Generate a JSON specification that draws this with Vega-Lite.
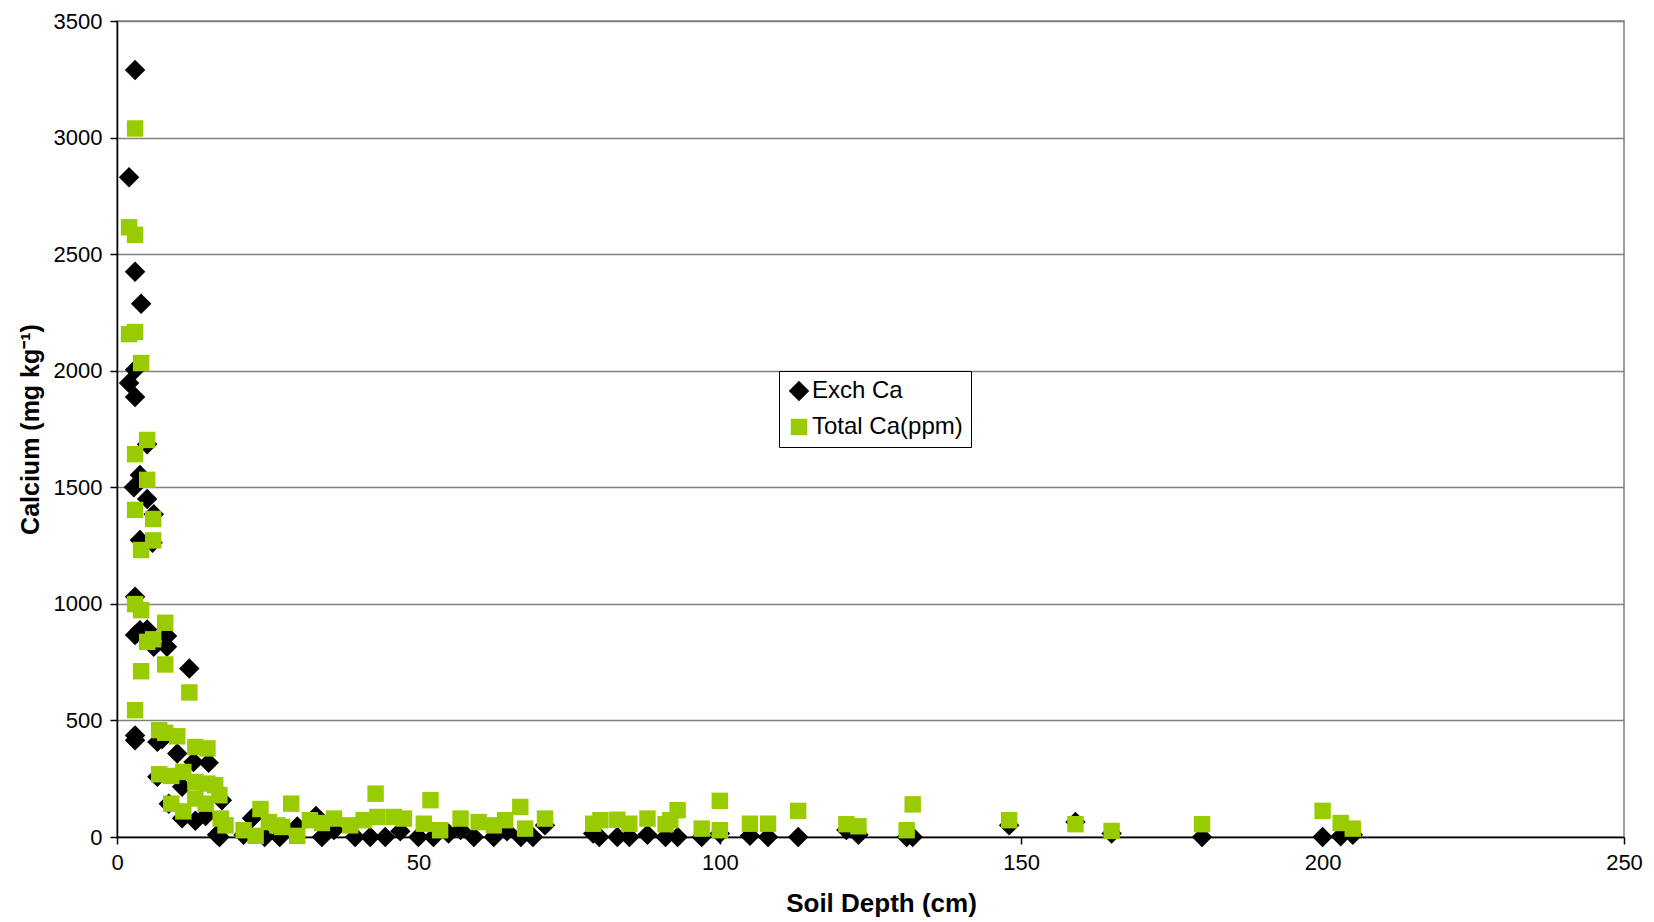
{
  "$schema": "https://vega.github.io/schema/vega-lite/v6.json",
  "width": 1507,
  "height": 816,
  "autosize": {"type": "none"},
  "padding": {"left": 117, "top": 21, "right": 30, "bottom": 85},
  "background": "white",
  "config": {
    "font": "Liberation Sans",
    "view": {"stroke": "#808080", "strokeWidth": 1.5},
    "axis": {"labelFont": "Liberation Sans", "titleFont": "Liberation Sans", "labelColor": "black", "titleColor": "black", "domainColor": "black", "tickColor": "black", "domainWidth": 1.5, "tickWidth": 1.5, "tickSize": 7}
  },
  "data": {
    "values": [
      {"depth": 3, "ca": 3290, "series": "Exch Ca"},
      {"depth": 2, "ca": 2830, "series": "Exch Ca"},
      {"depth": 3, "ca": 2425, "series": "Exch Ca"},
      {"depth": 4, "ca": 2287, "series": "Exch Ca"},
      {"depth": 3, "ca": 2004, "series": "Exch Ca"},
      {"depth": 2, "ca": 1947, "series": "Exch Ca"},
      {"depth": 3, "ca": 1887, "series": "Exch Ca"},
      {"depth": 5, "ca": 1685, "series": "Exch Ca"},
      {"depth": 3.8, "ca": 1553, "series": "Exch Ca"},
      {"depth": 2.8, "ca": 1500, "series": "Exch Ca"},
      {"depth": 5, "ca": 1450, "series": "Exch Ca"},
      {"depth": 6.1, "ca": 1384, "series": "Exch Ca"},
      {"depth": 3.8, "ca": 1274, "series": "Exch Ca"},
      {"depth": 5.9, "ca": 1262, "series": "Exch Ca"},
      {"depth": 3, "ca": 1030, "series": "Exch Ca"},
      {"depth": 3.8, "ca": 887, "series": "Exch Ca"},
      {"depth": 5, "ca": 890, "series": "Exch Ca"},
      {"depth": 3, "ca": 866, "series": "Exch Ca"},
      {"depth": 6.1, "ca": 816, "series": "Exch Ca"},
      {"depth": 8.3, "ca": 862, "series": "Exch Ca"},
      {"depth": 8.3, "ca": 816, "series": "Exch Ca"},
      {"depth": 12, "ca": 723, "series": "Exch Ca"},
      {"depth": 3, "ca": 435, "series": "Exch Ca"},
      {"depth": 3, "ca": 415, "series": "Exch Ca"},
      {"depth": 6.7, "ca": 408, "series": "Exch Ca"},
      {"depth": 7.5, "ca": 420, "series": "Exch Ca"},
      {"depth": 10, "ca": 358, "series": "Exch Ca"},
      {"depth": 12.7, "ca": 322, "series": "Exch Ca"},
      {"depth": 15.2, "ca": 318, "series": "Exch Ca"},
      {"depth": 6.7, "ca": 258, "series": "Exch Ca"},
      {"depth": 10.8, "ca": 215, "series": "Exch Ca"},
      {"depth": 17.4, "ca": 158, "series": "Exch Ca"},
      {"depth": 8.6, "ca": 143, "series": "Exch Ca"},
      {"depth": 10.8, "ca": 80, "series": "Exch Ca"},
      {"depth": 13, "ca": 70, "series": "Exch Ca"},
      {"depth": 14.7, "ca": 90, "series": "Exch Ca"},
      {"depth": 16.6, "ca": 10, "series": "Exch Ca"},
      {"depth": 17, "ca": 0, "series": "Exch Ca"},
      {"depth": 21, "ca": 10, "series": "Exch Ca"},
      {"depth": 22.4, "ca": 80, "series": "Exch Ca"},
      {"depth": 24.5, "ca": 0, "series": "Exch Ca"},
      {"depth": 27, "ca": 0, "series": "Exch Ca"},
      {"depth": 29.9, "ca": 45, "series": "Exch Ca"},
      {"depth": 33, "ca": 90, "series": "Exch Ca"},
      {"depth": 34, "ca": 0, "series": "Exch Ca"},
      {"depth": 36, "ca": 30, "series": "Exch Ca"},
      {"depth": 39.5, "ca": 0, "series": "Exch Ca"},
      {"depth": 42, "ca": 0, "series": "Exch Ca"},
      {"depth": 44.5, "ca": 0, "series": "Exch Ca"},
      {"depth": 47, "ca": 25, "series": "Exch Ca"},
      {"depth": 50, "ca": 0, "series": "Exch Ca"},
      {"depth": 52.5, "ca": 0, "series": "Exch Ca"},
      {"depth": 55, "ca": 15, "series": "Exch Ca"},
      {"depth": 57, "ca": 30, "series": "Exch Ca"},
      {"depth": 59.2, "ca": 0, "series": "Exch Ca"},
      {"depth": 62.5, "ca": 0, "series": "Exch Ca"},
      {"depth": 64.7, "ca": 25, "series": "Exch Ca"},
      {"depth": 67, "ca": 0, "series": "Exch Ca"},
      {"depth": 69, "ca": 0, "series": "Exch Ca"},
      {"depth": 71, "ca": 50, "series": "Exch Ca"},
      {"depth": 79, "ca": 15, "series": "Exch Ca"},
      {"depth": 80, "ca": 0, "series": "Exch Ca"},
      {"depth": 83, "ca": 0, "series": "Exch Ca"},
      {"depth": 85, "ca": 0, "series": "Exch Ca"},
      {"depth": 88, "ca": 10, "series": "Exch Ca"},
      {"depth": 91, "ca": 0, "series": "Exch Ca"},
      {"depth": 93, "ca": 0, "series": "Exch Ca"},
      {"depth": 97, "ca": 0, "series": "Exch Ca"},
      {"depth": 100, "ca": 15, "series": "Exch Ca"},
      {"depth": 105, "ca": 5, "series": "Exch Ca"},
      {"depth": 108, "ca": 0, "series": "Exch Ca"},
      {"depth": 113, "ca": 0, "series": "Exch Ca"},
      {"depth": 121, "ca": 30, "series": "Exch Ca"},
      {"depth": 123, "ca": 10, "series": "Exch Ca"},
      {"depth": 131, "ca": 0, "series": "Exch Ca"},
      {"depth": 132, "ca": 0, "series": "Exch Ca"},
      {"depth": 148, "ca": 50, "series": "Exch Ca"},
      {"depth": 159, "ca": 64, "series": "Exch Ca"},
      {"depth": 165, "ca": 15, "series": "Exch Ca"},
      {"depth": 180, "ca": 0, "series": "Exch Ca"},
      {"depth": 200, "ca": 0, "series": "Exch Ca"},
      {"depth": 203, "ca": 3, "series": "Exch Ca"},
      {"depth": 205, "ca": 10, "series": "Exch Ca"},
      {"depth": 3, "ca": 3039, "series": "Total Ca(ppm)"},
      {"depth": 2, "ca": 2615, "series": "Total Ca(ppm)"},
      {"depth": 3, "ca": 2583, "series": "Total Ca(ppm)"},
      {"depth": 2, "ca": 2157, "series": "Total Ca(ppm)"},
      {"depth": 3, "ca": 2166, "series": "Total Ca(ppm)"},
      {"depth": 4, "ca": 2033, "series": "Total Ca(ppm)"},
      {"depth": 5, "ca": 1703, "series": "Total Ca(ppm)"},
      {"depth": 3, "ca": 1642, "series": "Total Ca(ppm)"},
      {"depth": 5, "ca": 1532, "series": "Total Ca(ppm)"},
      {"depth": 3, "ca": 1403, "series": "Total Ca(ppm)"},
      {"depth": 6, "ca": 1364, "series": "Total Ca(ppm)"},
      {"depth": 6, "ca": 1272, "series": "Total Ca(ppm)"},
      {"depth": 4, "ca": 1231, "series": "Total Ca(ppm)"},
      {"depth": 3, "ca": 999, "series": "Total Ca(ppm)"},
      {"depth": 4, "ca": 973, "series": "Total Ca(ppm)"},
      {"depth": 8, "ca": 919, "series": "Total Ca(ppm)"},
      {"depth": 5, "ca": 837, "series": "Total Ca(ppm)"},
      {"depth": 6, "ca": 848, "series": "Total Ca(ppm)"},
      {"depth": 4, "ca": 711, "series": "Total Ca(ppm)"},
      {"depth": 8, "ca": 740, "series": "Total Ca(ppm)"},
      {"depth": 12, "ca": 620, "series": "Total Ca(ppm)"},
      {"depth": 3, "ca": 544, "series": "Total Ca(ppm)"},
      {"depth": 7, "ca": 458, "series": "Total Ca(ppm)"},
      {"depth": 8, "ca": 447, "series": "Total Ca(ppm)"},
      {"depth": 10, "ca": 432, "series": "Total Ca(ppm)"},
      {"depth": 13, "ca": 386, "series": "Total Ca(ppm)"},
      {"depth": 15, "ca": 380, "series": "Total Ca(ppm)"},
      {"depth": 7, "ca": 269, "series": "Total Ca(ppm)"},
      {"depth": 9, "ca": 262, "series": "Total Ca(ppm)"},
      {"depth": 11, "ca": 279, "series": "Total Ca(ppm)"},
      {"depth": 13, "ca": 236, "series": "Total Ca(ppm)"},
      {"depth": 15, "ca": 229, "series": "Total Ca(ppm)"},
      {"depth": 16.3, "ca": 222, "series": "Total Ca(ppm)"},
      {"depth": 17, "ca": 179, "series": "Total Ca(ppm)"},
      {"depth": 9, "ca": 143, "series": "Total Ca(ppm)"},
      {"depth": 11, "ca": 110, "series": "Total Ca(ppm)"},
      {"depth": 13, "ca": 165, "series": "Total Ca(ppm)"},
      {"depth": 14.7, "ca": 143, "series": "Total Ca(ppm)"},
      {"depth": 17.2, "ca": 79, "series": "Total Ca(ppm)"},
      {"depth": 18, "ca": 50, "series": "Total Ca(ppm)"},
      {"depth": 21, "ca": 29, "series": "Total Ca(ppm)"},
      {"depth": 23, "ca": 5, "series": "Total Ca(ppm)"},
      {"depth": 23.8, "ca": 120, "series": "Total Ca(ppm)"},
      {"depth": 25.2, "ca": 64, "series": "Total Ca(ppm)"},
      {"depth": 26.6, "ca": 50, "series": "Total Ca(ppm)"},
      {"depth": 27.4, "ca": 43, "series": "Total Ca(ppm)"},
      {"depth": 28.9, "ca": 143, "series": "Total Ca(ppm)"},
      {"depth": 29.9, "ca": 5, "series": "Total Ca(ppm)"},
      {"depth": 32, "ca": 72, "series": "Total Ca(ppm)"},
      {"depth": 34, "ca": 60, "series": "Total Ca(ppm)"},
      {"depth": 36, "ca": 79, "series": "Total Ca(ppm)"},
      {"depth": 38.7, "ca": 50, "series": "Total Ca(ppm)"},
      {"depth": 40.9, "ca": 72, "series": "Total Ca(ppm)"},
      {"depth": 42.9, "ca": 186, "series": "Total Ca(ppm)"},
      {"depth": 43.2, "ca": 86, "series": "Total Ca(ppm)"},
      {"depth": 45.9, "ca": 86, "series": "Total Ca(ppm)"},
      {"depth": 47.6, "ca": 79, "series": "Total Ca(ppm)"},
      {"depth": 50.9, "ca": 57, "series": "Total Ca(ppm)"},
      {"depth": 52, "ca": 158, "series": "Total Ca(ppm)"},
      {"depth": 53.6, "ca": 29, "series": "Total Ca(ppm)"},
      {"depth": 57, "ca": 79, "series": "Total Ca(ppm)"},
      {"depth": 60, "ca": 64, "series": "Total Ca(ppm)"},
      {"depth": 62.5, "ca": 50, "series": "Total Ca(ppm)"},
      {"depth": 64.4, "ca": 72, "series": "Total Ca(ppm)"},
      {"depth": 66.9, "ca": 129, "series": "Total Ca(ppm)"},
      {"depth": 67.7, "ca": 36, "series": "Total Ca(ppm)"},
      {"depth": 71, "ca": 79, "series": "Total Ca(ppm)"},
      {"depth": 79, "ca": 57, "series": "Total Ca(ppm)"},
      {"depth": 80.2, "ca": 72, "series": "Total Ca(ppm)"},
      {"depth": 83, "ca": 74, "series": "Total Ca(ppm)"},
      {"depth": 85, "ca": 57, "series": "Total Ca(ppm)"},
      {"depth": 88, "ca": 79, "series": "Total Ca(ppm)"},
      {"depth": 91, "ca": 55, "series": "Total Ca(ppm)"},
      {"depth": 91.8, "ca": 72, "series": "Total Ca(ppm)"},
      {"depth": 93, "ca": 115, "series": "Total Ca(ppm)"},
      {"depth": 97, "ca": 36, "series": "Total Ca(ppm)"},
      {"depth": 100, "ca": 155, "series": "Total Ca(ppm)"},
      {"depth": 100, "ca": 29, "series": "Total Ca(ppm)"},
      {"depth": 105, "ca": 57, "series": "Total Ca(ppm)"},
      {"depth": 108, "ca": 57, "series": "Total Ca(ppm)"},
      {"depth": 113, "ca": 112, "series": "Total Ca(ppm)"},
      {"depth": 121, "ca": 55, "series": "Total Ca(ppm)"},
      {"depth": 123, "ca": 46, "series": "Total Ca(ppm)"},
      {"depth": 131, "ca": 29, "series": "Total Ca(ppm)"},
      {"depth": 132, "ca": 140, "series": "Total Ca(ppm)"},
      {"depth": 148, "ca": 72, "series": "Total Ca(ppm)"},
      {"depth": 159, "ca": 55, "series": "Total Ca(ppm)"},
      {"depth": 165, "ca": 26, "series": "Total Ca(ppm)"},
      {"depth": 180, "ca": 55, "series": "Total Ca(ppm)"},
      {"depth": 200, "ca": 112, "series": "Total Ca(ppm)"},
      {"depth": 203, "ca": 60, "series": "Total Ca(ppm)"},
      {"depth": 205, "ca": 36, "series": "Total Ca(ppm)"}
    ]
  },
  "mark": {"type": "point", "filled": true, "opacity": 1, "size": 300},
  "encoding": {
    "x": {
      "field": "depth", "type": "quantitative",
      "scale": {"domain": [0, 250], "nice": false, "zero": true},
      "axis": {"values": [0, 50, 100, 150, 200, 250], "format": "d", "grid": false, "title": "Soil Depth (cm)", "titleFontSize": 26, "titleFontWeight": "bold", "titleX": 764, "labelFontSize": 22, "labelPadding": 8, "titlePadding": 17, "labelFlush": false}
    },
    "y": {
      "field": "ca", "type": "quantitative",
      "scale": {"domain": [0, 3500], "nice": false},
      "axis": {"values": [0, 500, 1000, 1500, 2000, 2500, 3000, 3500], "format": "d", "grid": true, "gridColor": "#808080", "gridWidth": 1.5, "title": "Calcium (mg kg⁻¹)", "titleFontSize": 25, "titleFontWeight": "bold", "labelFontSize": 22, "labelPadding": 8, "titlePadding": 10, "labelFlush": false}
    },
    "color": {
      "field": "series", "type": "nominal",
      "scale": {"domain": ["Exch Ca", "Total Ca(ppm)"], "range": ["#000000", "#99CC00"]},
      "legend": {"title": null, "orient": "none", "legendX": 662, "legendY": 350, "labelFontSize": 24, "labelFont": "Liberation Sans", "labelColor": "black", "strokeColor": "black", "fillColor": "white", "padding": 8, "rowPadding": 12, "symbolSize": 220, "symbolOpacity": 1, "labelOffset": 1}
    },
    "shape": {
      "field": "series", "type": "nominal",
      "scale": {"domain": ["Exch Ca", "Total Ca(ppm)"], "range": ["diamond", "square"]},
      "legend": null
    },
    "size": {
      "field": "series", "type": "nominal",
      "scale": {"domain": ["Exch Ca", "Total Ca(ppm)"], "range": [420, 270]},
      "legend": null
    }
  }
}
